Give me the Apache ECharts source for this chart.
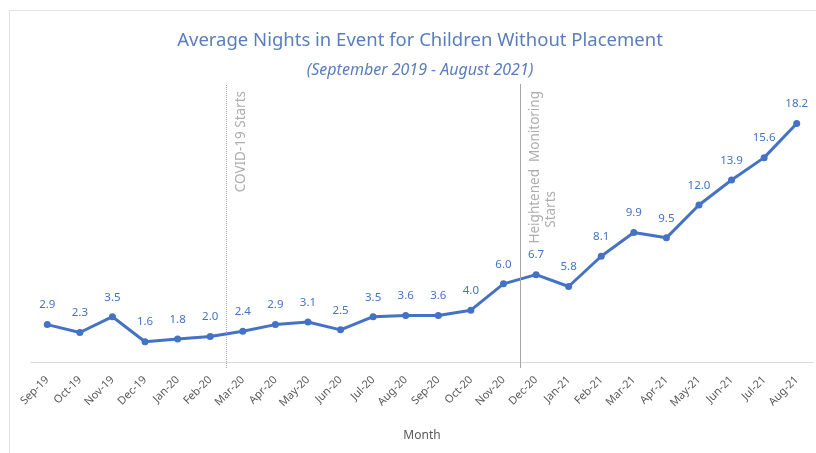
<!DOCTYPE html>
<html>
<head>
<meta charset="utf-8">
<script src="https://cdn.jsdelivr.net/npm/echarts@6/dist/echarts.min.js"></script>
<style>
  html, body { margin: 0; padding: 0; background: #fff; }
  #chart { width: 816px; height: 453px; }
  /* light frame of the chart area (left and top edges only) */
  #frame { position: absolute; left: 9px; top: 10px; right: 0; bottom: 0;
    border-left: 1px solid #E3E3E3; border-top: 1px solid #E3E3E3; pointer-events: none; }
</style>
</head>
<body>
<div id="chart"></div>
<div id="frame"></div>
<script>
// months on the x axis
let months = ['Sep-19', 'Oct-19', 'Nov-19', 'Dec-19', 'Jan-20', 'Feb-20', 'Mar-20', 'Apr-20',
    'May-20', 'Jun-20', 'Jul-20', 'Aug-20', 'Sep-20', 'Oct-20', 'Nov-20', 'Dec-20',
    'Jan-21', 'Feb-21', 'Mar-21', 'Apr-21', 'May-21', 'Jun-21', 'Jul-21', 'Aug-21'];
// average nights
let nights = [2.9, 2.3, 3.5, 1.6, 1.8, 2.0, 2.4, 2.9, 3.1, 2.5, 3.5, 3.6, 3.6, 4.0,
    6.0, 6.7, 5.8, 8.1, 9.9, 9.5, 12.0, 13.9, 15.6, 18.2];
// event lines (between two months)
let events = [
    { at: 5.5, text: '{a|COVID-19 Starts}', type: 'dotted' },
    { at: 14.5, text: '{a|Heightened  Monitoring}\n{b|Starts}', type: 'solid' }
];

let blue = '#4472C4';
let font = 'Noto Sans';
let grey = '#ADADAD';

let myChart = echarts.init(document.getElementById('chart'));
let option = {
    animation: false,
    title: {
        text: 'Average Nights in Event for Children Without Placement',
        subtext: '(September 2019 - August 2021)',
        left: 415,
        textAlign: 'center',
        top: 26,
        itemGap: 12,
        textStyle: { color: '#5A7DC0', fontSize: 18.5, fontWeight: 'normal', fontFamily: font },
        subtextStyle: { color: '#5A7DC0', fontSize: 16, fontStyle: 'italic', fontFamily: font }
    },
    grid: { left: 31, right: 3, top: 84, bottom: 85 },
    xAxis: [{
        type: 'category',
        data: months,
        name: 'Month',
        nameLocation: 'middle',
        nameGap: 62,
        nameTextStyle: { color: '#595959', fontSize: 12, fontFamily: font },
        axisLine: { onZero: true, lineStyle: { color: '#D9D9D9' } },
        axisTick: { lineStyle: { color: '#D9D9D9' }, length: 5 },
        axisLabel: { rotate: 45, color: '#595959', fontSize: 11, fontFamily: font, interval: 0, margin: 10 }
    }, {
        type: 'value',
        min: -0.5,
        max: 23.5,
        show: false
    }],
    yAxis: { type: 'value', min: -0.4, max: 21.2, show: false },
    series: [{
        type: 'line',
        data: nights,
        symbol: 'circle',
        symbolSize: 7,
        itemStyle: { color: blue },
        lineStyle: { color: blue, width: 3 },
        label: {
            show: true,
            position: 'top',
            distance: 10,
            color: blue,
            fontSize: 11.5,
            fontFamily: font,
            formatter: p => p.value.toFixed(1)
        }
    }, {
        // carrier for the event lines
        type: 'line',
        xAxisIndex: 1,
        data: [[0, 0]],
        symbol: 'none',
        lineStyle: { opacity: 0 },
        silent: true,
        markLine: {
            silent: true,
            symbol: 'none',
            data: events.map(e => [
                { coord: [e.at, -0.4], lineStyle: { type: e.type } },
                { coord: [e.at, 21.2], label: { formatter: e.text } }
            ]),
            lineStyle: { color: '#A6A6A6', width: 1 },
            label: {
                show: true,
                position: 'insideEndBottom',
                color: grey,
                fontSize: 13.5,
                fontFamily: font,
                distance: 7,
                rich: {
                    a: { color: grey, fontSize: 13.5, fontFamily: font, lineHeight: 16 },
                    b: { color: grey, fontSize: 13.5, fontFamily: font, lineHeight: 16, padding: [0, 100, 0, 0] }
                }
            }
        }
    }]
};
myChart.setOption(option);
</script>
</body>
</html>
